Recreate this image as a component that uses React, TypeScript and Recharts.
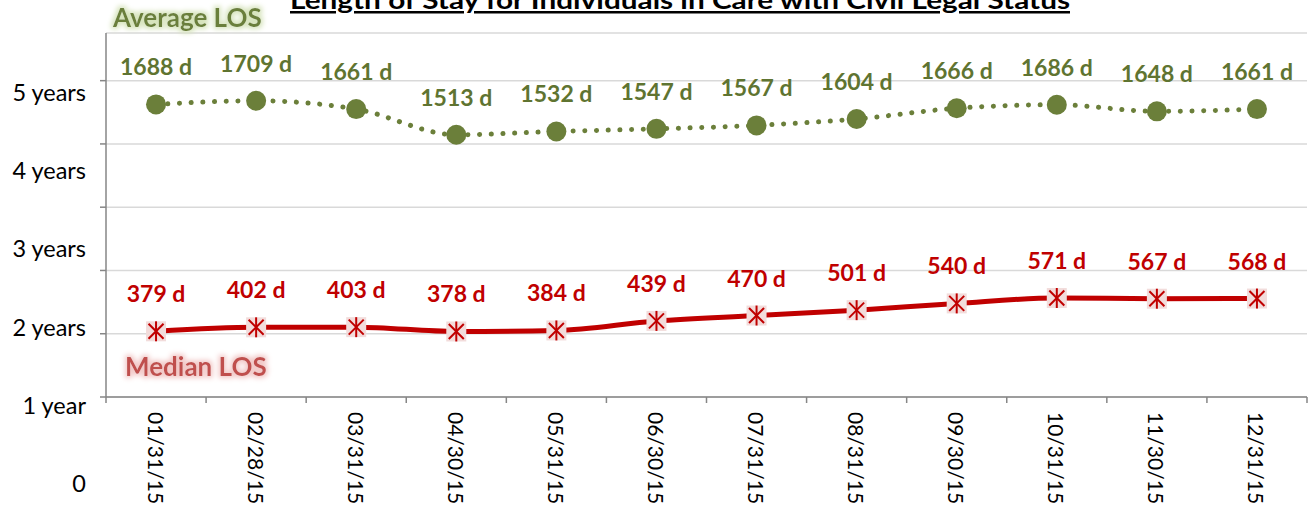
import React from 'react';
import { LineChart, Line, XAxis, YAxis, CartesianGrid, LabelList } from 'recharts';

const dates = ['01/31/15', '02/28/15', '03/31/15', '04/30/15', '05/31/15', '06/30/15', '07/31/15', '08/31/15', '09/30/15', '10/31/15', '11/30/15', '12/31/15'];
const averageLOS = [1688, 1709, 1661, 1513, 1532, 1547, 1567, 1604, 1666, 1686, 1648, 1661];
const medianLOS = [379, 402, 403, 378, 384, 439, 470, 501, 540, 571, 567, 568];
const yTickValues = [0, 365, 730, 1095, 1460, 1825];
const yTickLabels = ['0', '1 year', '2 years', '3 years', '4 years', '5 years'];
const yDomain = [0, 2100];

const data = dates.map((d, i) => ({ date: d, avg: averageLOS[i], median: medianLOS[i] }));

const W = 1308;
const H = 506;
const MARGIN = { top: 33, right: 1, left: 0, bottom: 0 };
const Y_W = 106;
const X_H = 109;
const BAND = (W - Y_W - MARGIN.right - MARGIN.left) / dates.length;
const PLOT_BOTTOM = H - X_H;
const FONT = 'Lato, "Open Sans", sans-serif';
const AXIS_COLOR = '#868686';
const GREEN = '#6b7f3a';
const GREEN_TEXT = '#5f7431';
const RED = '#c00000';

const YTick = (props: any) => {
  const { x, y, payload } = props;
  const idx = yTickValues.indexOf(payload.value);
  // labels are spaced wider than the gridlines in the original
  const baseline = 492 + (y - PLOT_BOTTOM) * 1.2366;
  return (
    <text x={x - 12} y={baseline} textAnchor="end" fontSize={23.5} fill="#000" fontFamily={FONT}>
      {yTickLabels[idx]}
    </text>
  );
};

const XTick = (props: any) => {
  const { x, y, payload, index } = props;
  const axisY = y - 8;
  return (
    <g>
      <line x1={x - BAND / 2} x2={x - BAND / 2} y1={axisY} y2={axisY + 6} stroke={AXIS_COLOR} strokeWidth={1.5} />
      {index === dates.length - 1 && (
        <line x1={x + BAND / 2} x2={x + BAND / 2} y1={axisY} y2={axisY + 6} stroke={AXIS_COLOR} strokeWidth={1.5} />
      )}
      <text
        transform={`translate(${x},${y + 7}) rotate(90)`}
        textAnchor="start"
        dominantBaseline="central"
        fontSize={21}
        fill="#000"
        fontFamily={FONT}
      >
        {payload.value}
      </text>
    </g>
  );
};

const AvgDot = (props: any) => {
  const { cx, cy, index } = props;
  if (cx == null || cy == null) return <g key={index} />;
  return <circle key={index} cx={cx} cy={cy} r={10} fill={GREEN} stroke="none" />;
};

const MedianDot = (props: any) => {
  const { cx, cy, index } = props;
  if (cx == null || cy == null) return <g key={index} />;
  const s = 10;
  const a = 7.5;
  return (
    <g key={index}>
      <rect x={cx - s} y={cy - s} width={2 * s} height={2 * s} fill="#f2dcdb" stroke="none" />
      <line x1={cx - a} y1={cy - a} x2={cx + a} y2={cy + a} stroke={RED} strokeWidth={2} />
      <line x1={cx - a} y1={cy + a} x2={cx + a} y2={cy - a} stroke={RED} strokeWidth={2} />
      <line x1={cx} y1={cy - s} x2={cx} y2={cy + s} stroke={RED} strokeWidth={2} />
    </g>
  );
};

const makeLabel = (color: string) => (props: any) => {
  const { x, y, value, index } = props;
  return (
    <text key={index} x={x} y={y - 29} textAnchor="middle" fontSize={23} fontWeight={700} fill={color} fontFamily={FONT}>
      {`${value} d`}
    </text>
  );
};

export default function App() {
  return (
    <div style={{ position: 'absolute', left: 0, top: 0, width: W, height: H, background: '#fff' }}>
      <LineChart width={W} height={H} data={data} margin={MARGIN}>
        <CartesianGrid horizontal vertical={false} stroke="#d9d9d9" strokeWidth={1.5} />
        <XAxis
          dataKey="date"
          height={X_H}
          interval={0}
          tick={<XTick />}
          tickLine={false}
          axisLine={{ stroke: AXIS_COLOR, strokeWidth: 1.5 }}
          padding={{ left: BAND / 2, right: BAND / 2 }}
        />
        <YAxis
          type="number"
          width={Y_W}
          domain={yDomain}
          ticks={yTickValues}
          interval={0}
          allowDataOverflow
          tick={<YTick />}
          tickSize={6}
          tickLine={{ stroke: AXIS_COLOR, strokeWidth: 1.5 }}
          axisLine={{ stroke: AXIS_COLOR, strokeWidth: 1.5 }}
        />
        <Line
          type="monotone"
          dataKey="median"
          stroke={RED}
          strokeWidth={5}
          dot={<MedianDot />}
          activeDot={false}
          isAnimationActive={false}
        >
          <LabelList dataKey="median" content={makeLabel(RED)} />
        </Line>
        <Line
          type="monotone"
          dataKey="avg"
          stroke={GREEN}
          strokeWidth={5}
          strokeDasharray="0.1 11.6"
          strokeLinecap="round"
          dot={<AvgDot />}
          activeDot={false}
          isAnimationActive={false}
        >
          <LabelList dataKey="avg" content={makeLabel(GREEN_TEXT)} />
        </Line>
      </LineChart>
      <svg width={W} height={H} style={{ position: 'absolute', left: 0, top: 0, pointerEvents: 'none' }}>
        <defs>
          <filter id="glowGreen" x="-20%" y="-50%" width="140%" height="200%">
            <feMorphology in="SourceAlpha" operator="dilate" radius="1.5" result="d" />
            <feGaussianBlur in="d" stdDeviation="2.5" result="b" />
            <feFlood floodColor="#d7e4bd" result="c" />
            <feComposite in="c" in2="b" operator="in" result="g" />
            <feMerge>
              <feMergeNode in="g" />
              <feMergeNode in="SourceGraphic" />
            </feMerge>
          </filter>
          <filter id="glowRed" x="-20%" y="-50%" width="140%" height="200%">
            <feMorphology in="SourceAlpha" operator="dilate" radius="1.5" result="d" />
            <feGaussianBlur in="d" stdDeviation="2.5" result="b" />
            <feFlood floodColor="#f2c9c8" result="c" />
            <feComposite in="c" in2="b" operator="in" result="g" />
            <feMerge>
              <feMergeNode in="g" />
              <feMergeNode in="SourceGraphic" />
            </feMerge>
          </filter>
        </defs>
        <text
          x={680}
          y={9}
          textAnchor="middle"
          fontSize={25}
          fontWeight={700}
          fontFamily={FONT}
          fill="#000"
          textDecoration="underline"
          textLength={780}
          lengthAdjust="spacingAndGlyphs"
        >
          Length of Stay for Individuals in Care with Civil Legal Status
        </text>
        <text x={113} y={27} fontSize={26} fontWeight={700} fontFamily={FONT} fill={GREEN} filter="url(#glowGreen)">
          Average LOS
        </text>
        <text x={125} y={376} fontSize={26} fontWeight={700} fontFamily={FONT} fill="#c0504d" filter="url(#glowRed)">
          Median LOS
        </text>
      </svg>
    </div>
  );
}
